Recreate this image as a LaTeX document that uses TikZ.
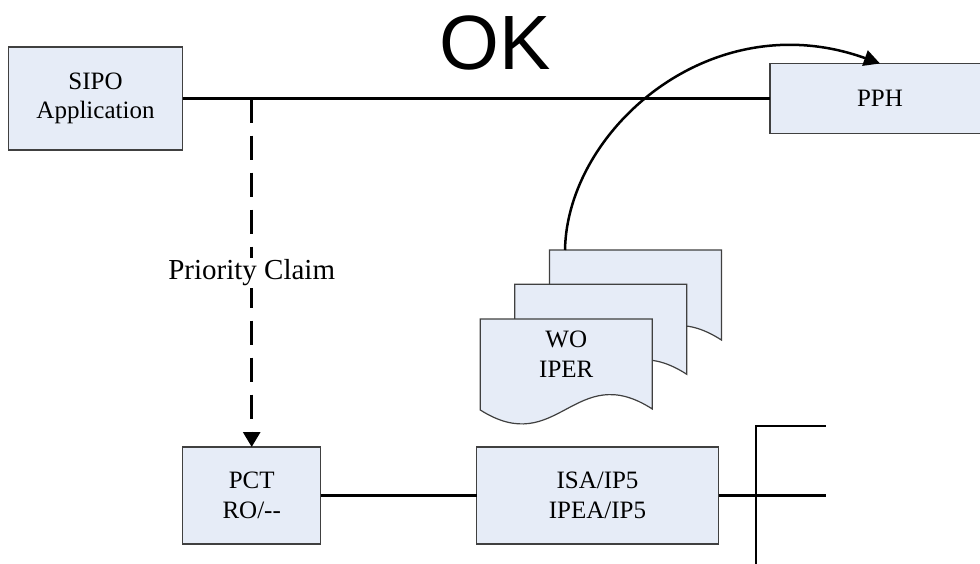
\documentclass[tikz,border=0pt]{standalone}
\usepackage{fontspec}
\setmainfont{Liberation Serif}
\newfontfamily\diagsansfont{Liberation Sans}
\usepackage{tikz}
\usetikzlibrary{arrows.meta}

\begin{document}
\begin{tikzpicture}[x=1pt,y=-1pt,line cap=rect,
		custbox/.style={draw=custcol_40_40_40, line width=1.2pt, fill=custcol_e6_ec_f7, inner sep=0, outer sep=0, align=center, font=\diagfontA{25pt}{29.5pt}},
		custdoc/.style={draw=custcol_40_40_40, line width=1.2pt, fill=custcol_e6_ec_f7},
		custpage/.style={inner sep=0, outer sep=0, minimum width=172pt, minimum height=91pt},
		custwire/.style={line width=2.8pt, custcol_0_0_0, line cap=butt},
		custdash/.style={custwire, dash pattern=on 24pt off 13pt},
		custtip/.style={-{Triangle[length=15pt,width=17pt]}}]
					\def\diagfontA#1#2{\fontsize{#1}{#2}\selectfont} % serif, as in the boxes
					\def\diagfontB#1{\diagsansfont\fontsize{#1}{#1}\selectfont} % sans, for the title
					\def\diagpage#1{\filldraw[custdoc, shift={(#1.north west)}] (0,0) -- (172,0) -- (172,90) .. controls (94.6,40) and (77.4,140) .. (0,91) -- cycle;}
					\definecolor{custcol_0_0_0}{RGB}{0, 0, 0}
					\definecolor{custcol_40_40_40}{RGB}{64, 64, 64}
					\definecolor{custcol_e6_ec_f7}{RGB}{230, 236, 247}
					\useasboundingbox (0,0) rectangle (980,563);
					\node[inner sep=0, font=\diagfontB{77pt}] (ok) at (495,42.5) {OK};
					\node[custbox, minimum width=174pt, minimum height=103pt] (sipo) at (95.5,98.5) {SIPO\\Application};
					\node[custbox, minimum width=220pt, minimum height=70pt] (pph) at (880,98.5) {PPH};
					\node[custbox, minimum width=138pt, minimum height=97pt] (pct) at (251.7,495.5) {PCT\\RO/-{}-};
					\node[custbox, minimum width=242pt, minimum height=97pt] (isa) at (597.5,495.5) {ISA/IP5\\IPEA/IP5};
					\node[custpage] (docback) at (635.4,295.5) {};
					\node[custpage] (docmid) at (600.8,329.8) {};
					\node[custpage] (docfront) at (566.3,364.5) {};
					\diagpage{docback}
					\diagpage{docmid}
					\diagpage{docfront}
					\node[inner sep=0, align=center, font=\diagfontA{25pt}{30.5pt}] (wo) at (566.3,354) {WO\\IPER};
					\draw[custwire] (sipo.east) -- (pph.west);
					\coordinate (branch) at (pct.north |- sipo.east);
					\draw[custdash, custtip] (branch) -- (pct.north) node[midway, fill=white, inner sep=2pt, font=\diagfontA{29pt}{29pt}] (claim) {Priority Claim};
					\draw[custwire, line width=2.5pt, -{Triangle[length=16pt,width=16pt]}] ([xshift=-70.4pt]docback.north) .. controls +(2,-120) and +(-169,-61) .. (pph.north);
					\draw[custwire] (pct.east) -- (isa.west);
					\coordinate (busTop) at (756,426);
					\coordinate (busBot) at (756,570);
					\coordinate (outTop) at (826,426);
					\coordinate (outMid) at (826,495.5);
					\draw[custwire] (busBot) -- (busTop) -- (outTop);
					\draw[custwire] (isa.east) -- (outMid);
				\end{tikzpicture}
\end{document}
